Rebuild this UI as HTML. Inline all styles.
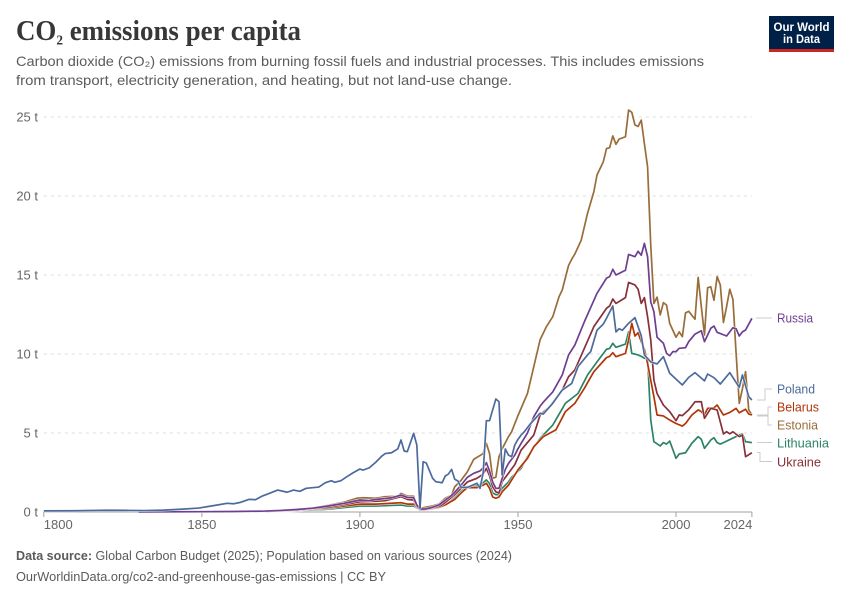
<!DOCTYPE html>
<html lang="en">
<head>
<meta charset="utf-8">
<title>CO₂ emissions per capita</title>
<style>
html,body{margin:0;padding:0;background:#fff;width:850px;height:600px;overflow:hidden}
svg{display:block;font-family:"Liberation Sans",sans-serif}
</style>
</head>
<body>
<svg id="chart" width="850" height="600" viewBox="0 0 850 600" xmlns="http://www.w3.org/2000/svg">
  <rect x="0" y="0" width="850" height="600" fill="#ffffff"/>
  <text x="16" y="40" font-family="'Liberation Serif',serif" font-weight="700" font-size="28" fill="#373737" textLength="285" lengthAdjust="spacingAndGlyphs">CO<tspan font-size="23">₂</tspan> emissions per capita</text>
  <text x="16" y="66" font-size="14" fill="#5b5b5b" textLength="688" lengthAdjust="spacingAndGlyphs">Carbon dioxide (CO₂) emissions from burning fossil fuels and industrial processes. This includes emissions</text>
  <text x="16" y="85" font-size="14" fill="#5b5b5b" textLength="496" lengthAdjust="spacingAndGlyphs">from transport, electricity generation, and heating, but not land-use change.</text>

  <g>
    <rect x="769" y="16" width="65" height="36" fill="#002147"/>
    <rect x="769" y="49" width="65" height="3" fill="#ce261e"/>
    <text x="801.5" y="31" text-anchor="middle" font-size="11.5" font-weight="700" fill="#ffffff" textLength="56" lengthAdjust="spacingAndGlyphs">Our World</text>
    <text x="801.5" y="43" text-anchor="middle" font-size="11.5" font-weight="700" fill="#ffffff" textLength="37" lengthAdjust="spacingAndGlyphs">in Data</text>
  </g>

  <g id="grid"></g>
  <g id="axes"></g>
  <g id="lines"></g>
  <g id="labels"></g>

  <text x="16" y="560" font-size="12.5" fill="#5b5b5b" textLength="496" lengthAdjust="spacingAndGlyphs"><tspan font-weight="700">Data source:</tspan> Global Carbon Budget (2025); Population based on various sources (2024)</text>
  <a><text x="16" y="581" font-size="12.5" fill="#5b5b5b" textLength="370" lengthAdjust="spacingAndGlyphs">OurWorldinData.org/co2-and-greenhouse-gas-emissions | CC BY</text></a>
</svg>
<script>
const yTicks = [0, 5, 10, 15, 20, 25];
const xTicks = [1800, 1850, 1900, 1950, 2000, 2024];

const estoniaYears = [1870,1880,1885,1890,1895,1899,1901,1905,1908,1912,1913,1915,1917,1918,1919,1923,1925,1927,1929,1930,1932,1934,1936,1939,1940,1941,1942,1943,1944,1945,1947,1948,1950,1953,1955,1957,1959,1961,1963,1964,1966,1967,1968,1970,1972,1974,1975,1977,1978,1979,1980,1981,1982,1984,1985,1986,1987,1988,1989,1990,1991,1992,1993,1994,1995,1996,1997,1998,2000,2001,2002,2003,2004,2006,2007,2008,2009,2010,2011,2012,2013,2014,2015,2016,2017,2018,2019,2020,2021,2022,2023,2024];
const estoniaValues = [0.05,0.17,0.25,0.42,0.62,0.87,0.9,0.87,0.97,1.0,1.18,1.0,1.0,0.38,0.23,0.38,0.5,0.87,1.07,1.6,2.0,2.55,3.33,3.7,4.35,3.7,2.13,2.2,3.5,4.0,4.77,5.08,6.1,7.5,9.2,10.9,11.73,12.36,13.63,14.05,15.6,16.0,16.33,17.2,18.9,20.27,21.33,22.17,23.0,23.06,23.8,23.27,23.6,23.75,25.44,25.3,24.5,24.4,24.8,23.3,21.85,16.9,13.2,13.6,12.47,13.25,13.1,11.94,11.06,11.4,11.1,12.6,12.7,12.2,14.85,13.0,11.2,14.2,14.25,13.4,14.9,14.37,12.0,13.0,14.1,13.46,10.06,6.88,7.8,8.88,6.46,6.14];

const lithuaniaYears = [1870,1880,1890,1900,1905,1908,1913,1915,1917,1918,1919,1921,1925,1927,1930,1932,1934,1937,1939,1940,1941,1942,1943,1944,1945,1947,1948,1951,1953,1957,1961,1965,1969,1972,1975,1978,1979,1980,1981,1984,1985,1986,1988,1989,1990,1991,1992,1993,1995,1996,1997,1998,2000,2001,2003,2005,2007,2008,2009,2011,2012,2013,2014,2015,2020,2021,2022,2024];
const lithuaniaValues = [0.02,0.07,0.18,0.38,0.38,0.4,0.44,0.38,0.38,0.25,0.12,0.14,0.28,0.45,0.9,1.3,1.6,1.65,1.85,2.03,1.8,1.2,1.1,1.1,1.5,1.9,2.2,2.76,3.5,4.66,5.5,6.88,7.5,8.67,9.5,10.3,10.35,10.68,10.42,10.63,11.4,10.04,9.94,9.85,9.73,9.73,5.82,4.45,4.18,4.39,4.3,4.49,3.4,3.67,3.75,4.35,4.77,4.6,4.03,4.56,4.7,4.39,4.3,4.39,4.87,4.94,4.45,4.39];

const belarusYears = [1870,1880,1890,1900,1905,1908,1913,1915,1917,1918,1919,1921,1925,1927,1930,1932,1934,1937,1939,1940,1941,1942,1943,1944,1945,1947,1948,1950,1953,1955,1958,1962,1965,1968,1971,1974,1978,1979,1980,1981,1984,1985,1986,1987,1988,1989,1990,1991,1993,1994,1996,1998,2000,2002,2003,2005,2007,2008,2009,2010,2012,2013,2015,2017,2019,2020,2022,2023,2024];
const belarusValues = [0.02,0.1,0.25,0.5,0.5,0.53,0.59,0.5,0.5,0.3,0.12,0.15,0.3,0.45,0.8,1.2,1.55,1.54,1.7,1.82,1.5,0.95,0.87,0.95,1.28,1.7,2.03,2.66,3.4,4.13,4.77,5.2,6.35,6.88,7.83,8.88,9.77,9.85,10.08,9.83,10.04,10.9,11.94,11.14,11.35,10.78,10.3,9.4,7.3,6.14,6.08,5.82,5.6,5.44,5.6,6.14,6.46,6.35,6.14,6.56,6.6,6.77,6.14,6.3,6.56,6.28,6.5,6.2,6.14];

const ukraineYears = [1870,1880,1890,1900,1905,1908,1913,1915,1917,1918,1919,1921,1925,1927,1930,1932,1934,1937,1939,1940,1941,1942,1943,1944,1945,1947,1949,1951,1955,1957,1960,1964,1966,1968,1971,1974,1978,1979,1980,1981,1984,1985,1987,1988,1989,1990,1991,1992,1993,1994,1996,1998,2000,2001,2002,2004,2006,2008,2009,2011,2013,2015,2016,2017,2018,2020,2021,2022,2024];
const ukraineValues = [0.03,0.13,0.3,0.65,0.68,0.72,0.97,0.8,0.75,0.35,0.14,0.18,0.35,0.6,1.1,1.5,1.9,2.13,2.4,2.76,2.3,1.6,1.28,1.2,1.92,2.45,3.0,3.92,4.87,6.14,6.66,7.72,8.56,8.99,10.36,11.73,12.89,13.04,13.48,13.2,13.57,14.53,14.37,14.1,13.2,13.57,12.36,10.9,8.35,7.5,6.77,6.35,5.78,6.14,6.1,6.46,6.98,6.98,5.93,6.56,6.46,4.94,5.08,4.95,5.08,4.77,4.87,3.5,3.75];

const russiaYears = [1830,1850,1860,1870,1875,1880,1885,1890,1895,1900,1903,1905,1908,1910,1913,1915,1917,1918,1919,1921,1923,1925,1927,1929,1930,1932,1934,1936,1938,1939,1940,1941,1942,1943,1944,1945,1946,1947,1949,1950,1951,1953,1955,1957,1958,1961,1964,1966,1968,1971,1975,1978,1979,1980,1981,1984,1985,1987,1988,1989,1990,1991,1992,1993,1994,1996,1997,1998,1999,2000,2001,2003,2004,2006,2008,2009,2011,2012,2013,2016,2018,2019,2020,2021,2022,2024];
const russiaValues = [0.01,0.02,0.03,0.06,0.1,0.16,0.24,0.38,0.55,0.76,0.72,0.8,0.85,0.9,1.07,0.92,0.9,0.45,0.18,0.2,0.3,0.45,0.75,1.05,1.25,1.7,2.2,2.45,2.6,2.8,3.12,2.6,1.9,1.5,1.5,2.13,2.7,3.08,3.6,4.0,4.35,5.0,6.03,6.7,6.95,7.6,8.67,9.94,10.57,12.04,13.84,14.8,14.9,15.36,15.0,15.3,16.3,16.16,16.5,16.25,17.0,16.16,13.3,12.68,11.06,10.68,10.04,9.89,10.15,10.15,10.36,10.4,10.78,11.26,11.47,10.78,11.63,11.77,11.37,11.14,11.66,11.6,11.14,11.4,11.52,12.26];

const polandYears = [1800,1810,1820,1827,1832,1838,1844,1849,1853,1858,1860,1862,1865,1867,1869,1871,1874,1877,1879,1881,1883,1887,1889,1891,1892,1894,1896,1898,1900,1901,1903,1905,1907,1908,1910,1912,1913,1914,1915,1917,1918,1919,1920,1921,1923,1924,1926,1927,1928,1929,1930,1931,1932,1934,1937,1938,1939,1940,1941,1943,1944,1945,1946,1947,1948,1949,1950,1951,1952,1954,1957,1958,1961,1964,1967,1969,1972,1973,1975,1977,1978,1980,1981,1982,1983,1985,1987,1989,1990,1992,1994,1996,1998,2002,2004,2006,2009,2010,2012,2014,2017,2020,2021,2023,2024];
const polandValues = [0.07,0.08,0.11,0.1,0.09,0.12,0.18,0.25,0.38,0.55,0.52,0.6,0.8,0.78,1.0,1.15,1.39,1.25,1.39,1.31,1.5,1.58,1.85,1.98,1.88,1.98,2.25,2.5,2.72,2.65,2.8,3.15,3.55,3.7,3.75,4.0,4.56,3.86,3.82,4.98,4.24,0.23,3.18,3.1,2.13,1.92,1.85,2.28,2.4,2.7,2.07,1.96,1.56,1.56,1.82,1.5,2.5,5.78,5.78,7.15,6.98,2.34,3.99,3.6,3.5,4.24,4.6,4.87,5.08,5.6,6.25,6.2,6.88,7.72,8.14,9.2,9.94,10.15,11.5,11.9,12.26,13.04,11.4,11.6,11.5,11.94,12.3,11.15,9.94,9.5,9.37,9.83,8.78,8.04,8.52,8.82,8.3,8.73,8.5,8.1,8.82,7.89,8.67,7.3,7.09];

const seriesNames = ["Estonia", "Lithuania", "Belarus", "Ukraine", "Russia", "Poland"];
const seriesYears = [estoniaYears, lithuaniaYears, belarusYears, ukraineYears, russiaYears, polandYears];
const seriesValues = [estoniaValues, lithuaniaValues, belarusValues, ukraineValues, russiaValues, polandValues];
const seriesColors = ["#996d39", "#2c8465", "#b13507", "#883039", "#6d3e91", "#4c6a9c"];

const NS = "http://www.w3.org/2000/svg";
const plotLeft = 43.8, plotRight = 751.9, plotZeroY = 512;
const pxPerYear = (plotRight - plotLeft) / 224;
const pxPerTonne = 15.8;
function xScale(year) { return plotLeft + (year - 1800) * pxPerYear; }
function yScale(v) { return plotZeroY - v * pxPerTonne; }
function make(tag, attrs, parent, txt) {
  const el = document.createElementNS(NS, tag);
  for (const k in attrs) el.setAttribute(k, attrs[k]);
  if (txt !== undefined) el.textContent = txt;
  parent.appendChild(el);
  return el;
}

const grid = document.getElementById("grid");
const axes = document.getElementById("axes");
const lines = document.getElementById("lines");
const labels = document.getElementById("labels");

yTicks.forEach(function (t) {
  if (t !== 0) {
    const g = make("line", {x1: plotLeft, x2: plotRight, y1: yScale(t), y2: yScale(t), stroke: "#dddddd", "stroke-width": 1, "stroke-dasharray": "3,4"}, grid);
    
    
  }
  const lab = make("text", {x: 38, y: yScale(t) + 4.5, "text-anchor": "end", "font-size": 13, fill: "#666666"}, axes, t + " t");
  
  
});

const axisLine = make("line", {x1: plotLeft, x2: plotRight, y1: plotZeroY, y2: plotZeroY, stroke: "#a1a1a1", "stroke-width": 1}, axes);



xTicks.forEach(function (yr) {
  const px = xScale(yr);
  const tick = make("line", {x1: px, x2: px, y1: plotZeroY, y2: plotZeroY + 5, stroke: "#a1a1a1", "stroke-width": 1}, axes);
  
  
  let anchor = "middle", lx = px;
  if (yr === 1800) { anchor = "start"; lx = px; }
  if (yr === 2024) { anchor = "end"; lx = px + 0.5; }
  const lab = make("text", {x: lx, y: 529, "text-anchor": anchor, "font-size": 13, fill: "#666666"}, axes, String(yr));
  
  
});

seriesNames.forEach(function (name, i) {
  const pts = seriesYears[i].map(function (yr, j) {
    return xScale(yr).toFixed(2) + "," + yScale(seriesValues[i][j]).toFixed(2);
  }).join(" ");
  const halo = make("polyline", {points: pts, fill: "none", stroke: "#ffffff", "stroke-width": 2.8, "stroke-linejoin": "round", "stroke-opacity": 0.8}, lines);
  
  
  const line = make("polyline", {points: pts, fill: "none", stroke: seriesColors[i], "stroke-width": 1.7, "stroke-linejoin": "round"}, lines);
  
  
});

function legendEntry(name, color, width, labelY, path) {
  const c = make("path", {d: path, fill: "none", stroke: "#cccccc", "stroke-width": 1}, labels);
  
  
  const t = make("text", {x: 777, y: labelY + 4.5, "font-size": 13, fill: color, textLength: width, lengthAdjust: "spacingAndGlyphs"}, labels, name);
  
  
}
legendEntry("Russia", "#6d3e91", 36, 318, "M756,318H772");
legendEntry("Poland", "#4c6a9c", 38, 389, "M757,400H765V389H772");
legendEntry("Belarus", "#b13507", 42, 407, "M757,415H768V407H772");
legendEntry("Estonia", "#996d39", 41, 425, "M757,416H768V425H772");
legendEntry("Lithuania", "#2c8465", 52, 443, "M757,442.5H772");
legendEntry("Ukraine", "#883039", 44, 462, "M757,452.5H760V461.5H772");
</script>
</body>
</html>
